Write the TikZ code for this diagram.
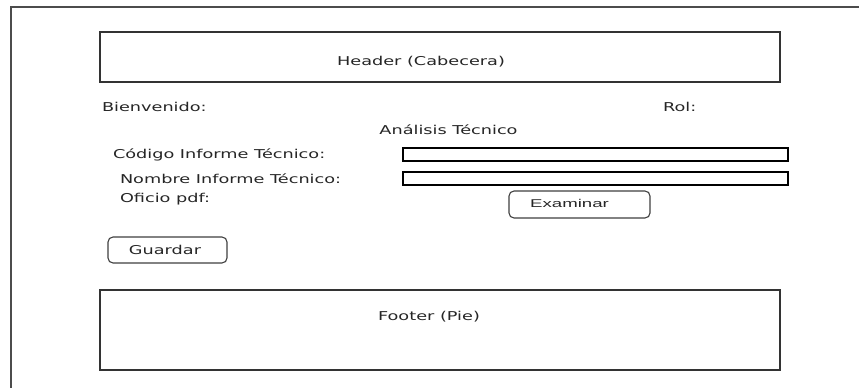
\documentclass[tikz,border=0pt]{standalone}
\usepackage{fontspec}
\setmainfont{DejaVu Sans}[FakeStretch=1.45]
\newfontfamily\btnfont{Liberation Sans}[FakeStretch=1.65]
\begin{document}
\begin{tikzpicture}[x=1pt,y=-1pt,
  every node/.style={inner sep=0pt,outer sep=0pt,font=\fontsize{12.2}{14}\selectfont,text=black!85},
  frame/.style={draw=black!70,line width=1.6pt},
  panel/.style={draw=black!80,line width=1.4pt,fill=white},
  field/.style={draw=black,line width=1.3pt,fill=white},
  btn/.style={draw=black!75,line width=1.1pt,rounded corners=5pt,fill=white},
  lbl/.style={anchor=west}]
\useasboundingbox (0,0) rectangle (859,388);
\fill[white] (0,0) rectangle (859,388);
% outer frame (cropped)
\coordinate (fbl) at (11,389);
\coordinate (ftl) at (11,7);
\coordinate (ftr) at (860,7);
\draw[frame] (fbl) -- (ftl) -- (ftr);
% header
\draw[panel] (100,32) rectangle (780,82);
\node (header) at (421,61.5) {Header (Cabecera)};
% labels
\node[lbl] (bienv) at (102,107) {Bienvenido:};
\node[lbl] (rol) at (663,107) {Rol:};
\node (titulo) at (448.5,130) {Análisis Técnico};
\node[lbl] (codigo) at (113,154.5) {Código Informe Técnico:};
\node[lbl] (nombre) at (120,179) {Nombre Informe Técnico:};
\node[lbl] (oficio) at (120,199.5) {Oficio pdf:};
% fields
\draw[field] (403,148) rectangle (788,161);
\draw[field] (403,172) rectangle (788,185);
% buttons
\draw[btn] (509,191) rectangle (650,218);
\node[font=\btnfont\fontsize{11.3}{13}\selectfont] (examinar) at (569.5,203.5) {Examinar};
\draw[btn] (108,237) rectangle (227,263);
\node (guardar) at (165,250) {Guardar};
% footer
\draw[panel] (100,290) rectangle (780,370);
\node (footer) at (429,316.5) {Footer (Pie)};
\end{tikzpicture}
\end{document}
